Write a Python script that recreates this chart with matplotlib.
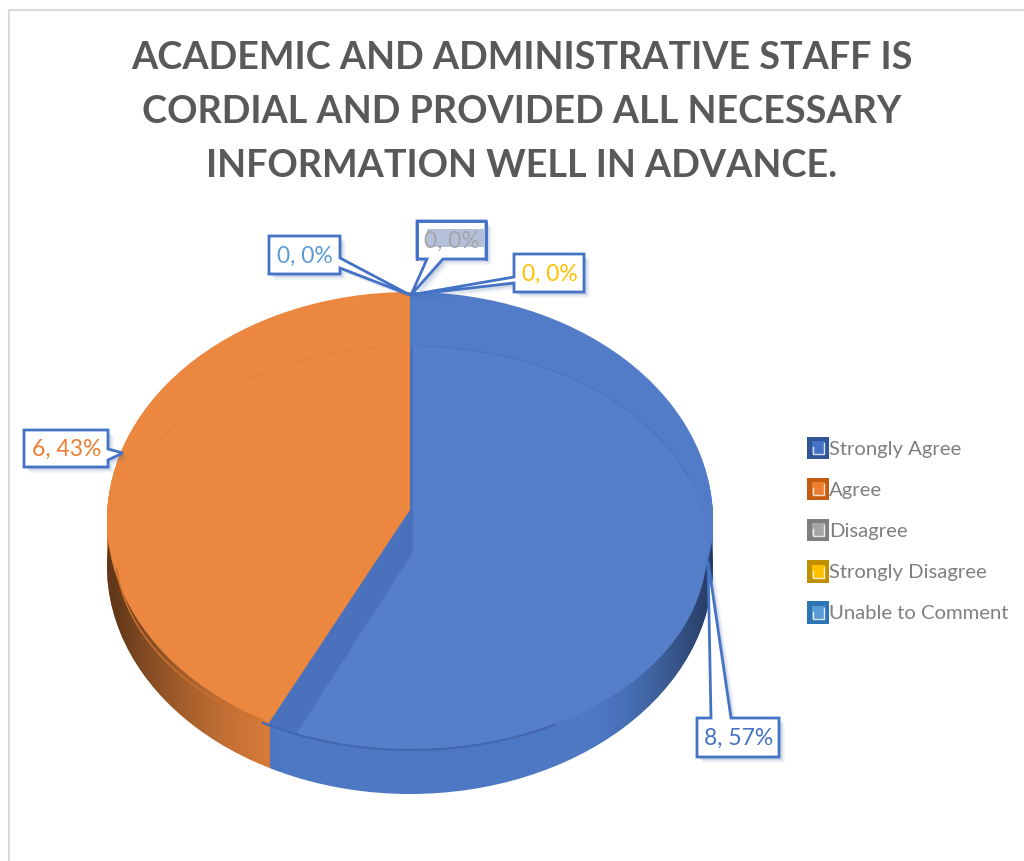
import matplotlib
matplotlib.use('Agg')
import matplotlib.pyplot as plt
import numpy as np
from matplotlib.patches import Polygon, Rectangle, Ellipse
from matplotlib.transforms import Affine2D

title_lines = ['ACADEMIC AND ADMINISTRATIVE STAFF IS',
               'CORDIAL AND PROVIDED ALL NECESSARY',
               'INFORMATION WELL IN ADVANCE.']
categories = ['Strongly Agree', 'Agree', 'Disagree', 'Strongly Disagree', 'Unable to Comment']
counts = [8, 6, 0, 0, 0]
percents = [57, 43, 0, 0, 0]

face_colors = ['#4472C4', '#ED7D31', '#A5A5A5', '#FFC000', '#5B9BD5']
dark_colors = ['#2F5597', '#C55A11', '#7F7F7F', '#BF9000', '#2E75B6']
top_outer = ['#527CC8', '#EB873F', '#A5A5A5', '#FFC000', '#5B9BD5']
strip_colors = ['#4A72BC', 'none', 'none', 'none', 'none']
top_inner = ['#557FC9', 'none', 'none', 'none', 'none']
side_colors = ['#4D78C3', '#DA7D3A', '#A5A5A5', '#FFC000', '#5B9BD5']

# everything is placed in image pixels, y going down
fig = plt.figure(figsize=(10.24, 8.61), dpi=100)
ax = fig.add_axes([0, 0, 1, 1])


def draw_pie(apex, radii, outline, colors, z):
    # squashed pie, larger than its outline and cut by it so the apex can sit off centre
    wedges, _ = ax.pie(counts, colors=colors, startangle=90, counterclock=False, radius=1,
                       wedgeprops={'linewidth': 0})
    squash = Affine2D().scale(radii[0], -radii[1]).translate(apex[0], apex[1]) + ax.transData
    clip = Ellipse(outline[:2], 2 * outline[2], 2 * outline[3], transform=ax.transData)
    for w in wedges:
        w.set_transform(squash)
        w.set_zorder(z)
        w.set_clip_on(True)  # pie turns clipping off
        w.set_clip_path(clip)
    return wedges


cx, cy, rx, ry = 410, 520, 303, 228
depth = 46
big = (330, 240)

# side wall, stacked copies of the pie
for d in range(depth, 0, -1):
    draw_pie((cx, 510 + d), big, (cx, cy + d, rx, ry), side_colors, 1)

# darkening towards both ends of the wall
xs = np.linspace(100, 720, 300)
shade = np.clip((290 - xs) / 175, 0, 1) ** 1.6 * 0.55 + np.clip((xs - 590) / 120, 0, 1) ** 1.6 * 0.5
rgba = np.zeros((1, len(xs), 4))
rgba[0, :, 3] = shade
img = ax.imshow(rgba, extent=(100, 720, 830, 500), aspect='auto', zorder=2)
img.set_clip_path(Ellipse((cx, cy + depth), 2 * rx, 2 * ry, transform=ax.transData))

# top face, rim then the dark inner wall of the big slice then the inner bevel
inner = (cx + 1, 548, 296, 202)
draw_pie((cx, 510), big, (cx, cy, rx, ry), top_outer, 3)
draw_pie((cx, 510), big, inner, strip_colors, 4)
draw_pie((cx + 3, 552), (300, 225), inner, top_inner, 5)

# faint rim lines of the bevel
t = np.radians(np.arange(0, 361))
rim_x = inner[0] + inner[2] * np.cos(t)
rim_y = inner[1] - inner[3] * np.sin(t)
ax.plot(rim_x[20:89], rim_y[20:89], color='#4B74BE', lw=1.0, alpha=0.8, zorder=6)
ax.plot(rim_x[91:165], rim_y[91:165], color='#E5813A', lw=1.0, alpha=0.7, zorder=6)
ax.plot(rim_x[186:238], rim_y[186:238], color='#C96F2E', lw=1.2, zorder=6)
ax.plot(rim_x[240:300], rim_y[240:300], color='#4468AE', lw=1.6, zorder=6)

# data label callouts
BORDER = '#4472C4'


def callout(i, box, outline, text_color, fill=None):
    x0, y0, x1, y1 = box
    for k, a in ((6, 0.05), (4.5, 0.08), (3, 0.12)):
        ax.add_patch(Polygon(np.array(outline) + [k, k], closed=True, fc='#2F4F8F', ec='none',
                             alpha=a, zorder=7))
    ax.add_patch(Polygon(outline, closed=True, fc='white', ec=BORDER, lw=2.0, joinstyle='miter', zorder=8))
    if fill:
        ax.add_patch(Rectangle((fill[0], fill[1]), fill[2], fill[3], fc='#B4C0D9', ec='none', zorder=8.5))
        ax.plot([x0, x0, x1, x1], [y1, y0, y0, y1], color=BORDER, lw=2.0, zorder=8.6)
    ax.text((x0 + x1) / 2 + 0.5, (y0 + y1) / 2 + 1, f'{counts[i]}, {percents[i]}%', color=text_color,
            fontsize=16.5, family='Lato', ha='center', va='center', zorder=9)


tip_top = (410, 295)
callout(4, (269, 236, 340, 274),
        [(269, 236), (340, 236), (340, 258), tip_top, (340, 268), (340, 274), (269, 274)], face_colors[4])
callout(2, (417, 221, 486, 259),
        [(417, 221), (486, 221), (486, 259), (443, 259), (411, 295), (427, 259), (417, 259)], face_colors[2],
        fill=(427, 229, 59, 18))
callout(3, (514, 254, 584, 292),
        [(514, 254), (584, 254), (584, 292), (514, 292), (514, 283), tip_top, (514, 277)], face_colors[3])
callout(1, (24, 430, 108, 467),
        [(24, 430), (108, 430), (108, 449), (123, 453), (108, 460), (108, 467), (24, 467)], face_colors[1])
callout(0, (697, 718, 779, 757),
        [(697, 718), (711, 718), (708, 561), (731, 718), (779, 718), (779, 757), (697, 757)], face_colors[0])

# title
for i, line in enumerate(title_lines):
    ax.text(522, 58 + i * 54, line, fontsize=27.2, fontweight='bold', family='Lato',
            color='#595959', ha='center', va='center')

# legend
for i, name in enumerate(categories):
    y = 448 + i * 41.2
    ax.add_patch(Rectangle((807, y - 11.5), 22, 22.5, fc=dark_colors[i], ec='none'))
    ax.add_patch(Rectangle((812, y - 7), 13, 13, fc=face_colors[i], ec='none'))
    ax.plot([813, 813, 824, 824], [y - 1, y + 6, y + 6, y - 5], color='white', lw=1.0, alpha=0.8)
    ax.text(829, y + 1, name, fontsize=14.6, family='Lato', color='#7F7F7F', va='center', ha='left')

# frame of the pasted chart
ax.plot([9, 9, 1024], [861, 10, 10], color='#D9D9D9', lw=1.5)

ax.set_aspect('auto')
ax.set_xlim(0, 1024)
ax.set_ylim(861, 0)
ax.axis('off')

fig.savefig('out.png', dpi=100, facecolor='white')
